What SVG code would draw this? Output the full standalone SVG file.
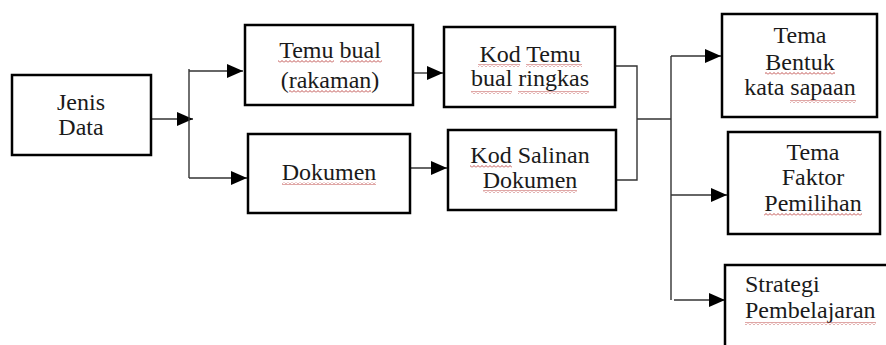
<svg xmlns="http://www.w3.org/2000/svg" width="886" height="345" viewBox="0 0 886 345">
<defs>
<style>
.box{fill:#fff;stroke:#000;stroke-width:2.5}
.lbl{font-size:24px;fill:#1a1a1a;text-anchor:middle}
.lft{text-anchor:start}
.con{fill:none;stroke:#333;stroke-width:1.4}
.arr{marker-end:url(#ah)}
.sq{fill:url(#squig)}
</style>
<marker id="ah" markerUnits="userSpaceOnUse" markerWidth="17" markerHeight="14" refX="16" refY="7" orient="auto">
<path d="M0,0 L16,7 L0,14 Z" fill="#000"/>
</marker>
<pattern id="squig" patternUnits="userSpaceOnUse" width="4" height="3">
<path d="M0,2.5 L2,0.5 L4,2.5" fill="none" stroke="#c0504d" stroke-width="1"/>
</pattern>
</defs>
<rect width="886" height="345" fill="#fff"/>
<g id="connectors">
<path class="con arr" d="M151,119 H193"/>
<path class="con" d="M189,69 V178"/>
<path class="con arr" d="M189,71 H243"/>
<path class="con arr" d="M189,178 H247"/>
<path class="con arr" d="M413,73 H443"/>
<path class="con arr" d="M410,168 H447"/>
<path class="con" d="M615,66 H637 V180 H616"/>
<path class="con" d="M637,119 H671"/>
<path class="con" d="M671,56 V300"/>
<path class="con arr" d="M671,56 H721"/>
<path class="con arr" d="M671,195 H727"/>
<path class="con arr" d="M674,300 H725"/>
</g>
<g id="nodes" font-family="Liberation Serif">
<g id="n-jenis">
<rect class="box" x="12" y="75" width="139" height="80"/>
<text class="lbl" x="81" y="110" font-family="Liberation Serif">Jenis</text>
<text class="lbl" x="81" y="135" font-family="Liberation Serif">Data</text>
</g>
<g id="n-temu">
<rect class="box" x="245" y="25" width="168" height="80"/>
<text class="lbl" x="330" y="58" font-family="Liberation Serif">Temu bual</text>
<text class="lbl" x="330" y="88" font-family="Liberation Serif">(rakaman)</text>
<rect class="sq" x="278" y="60" width="56" height="3"/>
<rect class="sq" x="340" y="60" width="42" height="3"/>
<rect class="sq" x="289" y="90" width="82" height="3"/>
</g>
<g id="n-dokumen">
<rect class="box" x="248" y="134" width="162" height="79"/>
<text class="lbl" x="329" y="180" font-family="Liberation Serif">Dokumen</text>
<rect class="sq" x="282" y="182" width="94" height="3"/>
</g>
<g id="n-kodtemu">
<rect class="box" x="444" y="27" width="171" height="80"/>
<text class="lbl" x="530" y="62" font-family="Liberation Serif">Kod Temu</text>
<text class="lbl" x="530" y="86" font-family="Liberation Serif">bual ringkas</text>
<rect class="sq" x="478" y="64" width="42" height="3"/>
<rect class="sq" x="526" y="64" width="56" height="3"/>
<rect class="sq" x="471" y="91" width="41" height="3"/>
<rect class="sq" x="518" y="91" width="71" height="3"/>
</g>
<g id="n-kodsalinan">
<rect class="box" x="448" y="130" width="168" height="80"/>
<text class="lbl" x="530" y="163" font-family="Liberation Serif">Kod Salinan</text>
<text class="lbl" x="530" y="188" font-family="Liberation Serif">Dokumen</text>
<rect class="sq" x="470" y="165" width="42" height="3"/>
<rect class="sq" x="483" y="190" width="94" height="3"/>
</g>
<g id="n-bentuk">
<rect class="box" x="722" y="14" width="155" height="103"/>
<text class="lbl" x="800" y="43" font-family="Liberation Serif">Tema</text>
<text class="lbl" x="800" y="70" font-family="Liberation Serif">Bentuk</text>
<text class="lbl" x="800" y="95" font-family="Liberation Serif">kata sapaan</text>
<rect class="sq" x="765" y="72" width="70" height="3"/>
<rect class="sq" x="790" y="100" width="66" height="3"/>
</g>
<g id="n-faktor">
<rect class="box" x="728" y="132" width="152" height="102"/>
<text class="lbl" x="813" y="160" font-family="Liberation Serif">Tema</text>
<text class="lbl" x="813" y="185" font-family="Liberation Serif">Faktor</text>
<text class="lbl" x="813" y="211" font-family="Liberation Serif">Pemilihan</text>
<rect class="sq" x="764" y="213" width="98" height="3"/>
</g>
<g id="n-strategi">
<rect class="box" x="725" y="265" width="180" height="100"/>
<text class="lbl lft" x="745" y="292" font-family="Liberation Serif">Strategi</text>
<text class="lbl lft" x="745" y="318" font-family="Liberation Serif">Pembelajaran</text>
<rect class="sq" x="745" y="322" width="131" height="3"/>
</g>
</g>
</svg>
